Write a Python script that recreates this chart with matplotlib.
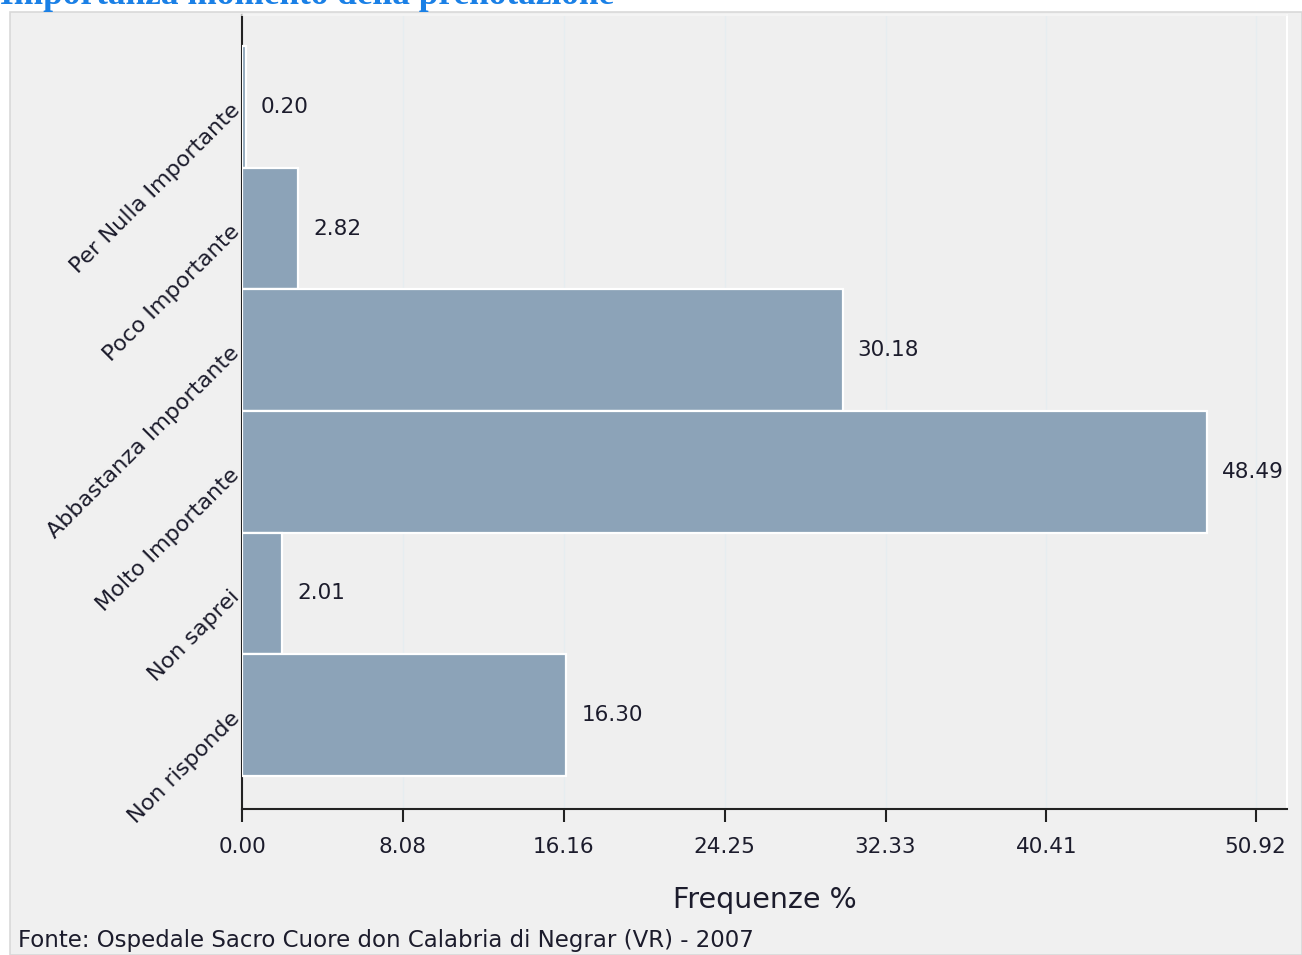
import matplotlib
matplotlib.use("Agg")
import matplotlib.pyplot as plt
from matplotlib.patches import Rectangle

title = "Importanza momento della prenotazione"
categories = ["Per Nulla Importante", "Poco Importante", "Abbastanza Importante",
              "Molto Importante", "Non saprei", "Non risponde"]
values = [0.20, 2.82, 30.18, 48.49, 2.01, 16.30]
xticks = [0.00, 8.08, 16.16, 24.25, 32.33, 40.41, 50.92]
xlabel = "Frequenze %"
source = "Fonte: Ospedale Sacro Cuore don Calabria di Negrar (VR) - 2007"

W, H = 1302, 955
fig = plt.figure(figsize=(W / 100, H / 100), dpi=100, facecolor="white")

# outer panel
fig.patches.append(Rectangle((10 / W, 0), (W - 10) / W, (H - 12) / H,
                             transform=fig.transFigure, facecolor="#f0f0f0",
                             edgecolor="#d9d9d9", linewidth=1.2, zorder=-5))

ax = fig.add_axes([242 / W, 1 - 809 / H, (1287 - 242) / W, (809 - 15) / H])
ax.set_zorder(2)
ax.set_facecolor("#efefef")

font = "DejaVu Sans"
txtcol = "#1c1c2c"

ypos = list(range(len(categories)))
ax.barh(ypos, values, height=1.0, color="#8ca3b8", edgecolor="white",
        linewidth=1.6, zorder=3)
for y, v in zip(ypos, values):
    ax.text(v + 0.75, y, f"{v:.2f}", va="center", ha="left", fontsize=15.5,
            family=font, color=txtcol, zorder=4)

ax.set_ylim(5.773, -0.757)
ax.set_xlim(0, 52.5)
ax.set_yticks(ypos)
ax.set_yticklabels(categories, rotation=45, ha="right", va="center",
                   rotation_mode="anchor", fontsize=16, family=font, color=txtcol)
ax.tick_params(axis="y", length=0, pad=4)
ax.set_xticks(xticks)
ax.set_xticklabels([f"{t:.2f}" for t in xticks], fontsize=15.5, family=font, color=txtcol)
ax.tick_params(axis="x", length=9.5, width=1.5, color="#222222", pad=11)
ax.grid(axis="x", color="#e6edf0", linewidth=1, zorder=1)
ax.set_axisbelow(True)

for s in ["left", "bottom"]:
    ax.spines[s].set_color("#222222")
    ax.spines[s].set_linewidth(1.5)
ax.spines["right"].set_color("white")
ax.spines["right"].set_linewidth(1.5)
ax.spines["top"].set_color("#f6f6f6")
ax.spines["top"].set_linewidth(1.2)

fig.text((242 + 1287) / 2 / W, 1 - 900 / H, xlabel, ha="center", va="center",
         fontsize=20.5, family=font, color=txtcol)
fig.text(18 / W, 1 - 940 / H, source, ha="left", va="center",
         fontsize=16.5, family=font, color=txtcol)
fig.text(0 / W, 1 - 4 / H, title, ha="left", va="baseline", fontsize=25.4,
         family="Liberation Serif", weight="bold", color="#1a80e6")

fig.savefig("out.png", dpi=100, facecolor="white")
